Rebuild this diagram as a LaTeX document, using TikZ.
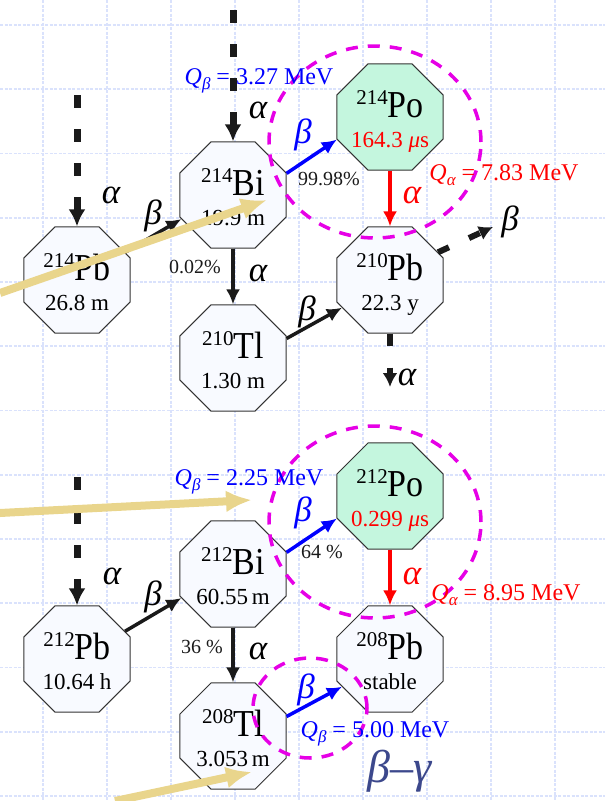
\documentclass[tikz,border=0pt]{standalone}
\usepackage{fontspec}
\setmainfont{Liberation Serif}
\usepackage{tikz}
\usetikzlibrary{shapes.geometric,arrows.meta}

\definecolor{gridblue}{RGB}{218,226,252}
\definecolor{nucfill}{RGB}{248,250,255}
\definecolor{pofill}{RGB}{196,246,222}
\definecolor{hintyellow}{RGB}{233,213,140}
\definecolor{ringmag}{RGB}{230,0,230}
\definecolor{slateblue}{RGB}{60,72,140}
\definecolor{arrblack}{RGB}{26,26,26}

% nuclide text: mass number, symbol, half-life
\newcommand{\nucl}[3]{\smash{\makebox[0pt]{\begin{tabular}[t]{@{}c@{}}\raisebox{13pt}{\fontsize{21}{21}\selectfont #1}\scalebox{1}[1.12]{#2}\\ {\fontsize{23}{23}\selectfont #3}\end{tabular}}}}
% Q value: subscript letter, energy
\newcommand{\qval}[2]{{\itshape Q}\raisebox{-5pt}{\fontsize{17}{17}\selectfont\itshape #1} = #2 MeV}

\begin{document}
\begin{tikzpicture}[x=1pt, y=-1pt,
    gridln/.style={gridblue, line width=1.8pt, dash pattern=on 3pt off 1.5pt},
    nuc/.style={regular polygon, regular polygon sides=8, minimum size=115pt,
        inner sep=0pt, draw=black!80, line width=0.9pt, fill=nucfill,
        font=\fontsize{34}{30}\selectfont},
    ponuc/.style={nuc, fill=pofill},
    decay/.style={arrblack, line width=3.5pt, -{Latex[length=15pt,width=14pt]}},
    bdecay/.style={decay, blue},
    adecay/.style={decay, red},
    feed/.style={arrblack, line width=7pt, dash pattern=on 13pt off 21pt,
        -{Latex[length=17pt,width=17pt]}},
    feedout/.style={arrblack, line width=6pt, dash pattern=on 12pt off 22pt,
        -{Latex[length=14pt,width=15pt]}},
    ring/.style={ringmag, line width=3.5pt, dash pattern=on 12pt off 10pt},
    hint/.style={hintyellow, line width=8pt, -{Latex[length=26pt,width=22pt]}},
    decaylbl/.style={font=\fontsize{35}{35}\selectfont\itshape, inner sep=0pt},
    pctlbl/.style={font=\fontsize{20}{20}\selectfont, text=arrblack, inner sep=0pt},
    qlbl/.style={font=\fontsize{24}{24}\selectfont, inner sep=0pt}]
    \useasboundingbox (0,0) rectangle (605,801);
    % Draw background grid
    \foreach \x in {0,...,8}
        \draw[gridln] ({43+64*\x},0) -- ({43+64*\x},801);
    \foreach \y in {0,...,12}
        \draw[gridln] (0,{25+64.25*\y}) -- (605,{25+64.25*\y});

    % Draw upper chain
    \node[nuc] (pb214) at (77,280) {\nucl{214}{Pb}{26.8 m}};
    \node[nuc] (bi214) at (233,195) {\nucl{214}{Bi}{19.9 m}};
    \node[nuc] (tl210) at (233,358) {\nucl{210}{Tl}{1.30 m}};
    \node[ponuc] (po214) at (390,117) {\nucl{214}{Po}{\textcolor{red}{164.3 {\itshape μ}s}}};
    \node[nuc] (pb210) at (390,280) {\nucl{210}{Pb}{22.3 y}};
    % Draw lower chain
    \node[nuc] (pb212) at (77,659) {\nucl{212}{Pb}{10.64 h}};
    \node[nuc] (bi212) at (233,574) {\nucl{212}{Bi}{60.55\,m}};
    \node[nuc] (tl208) at (233,736) {\nucl{208}{Tl}{3.053\,m}};
    \node[ponuc] (po212) at (390,496) {\nucl{212}{Po}{\textcolor{red}{0.299 {\itshape μ}s}}};
    \node[nuc] (pb208) at (390,659) {\nucl{208}{Pb}{stable}};

    % Draw feeding and outgoing decays
    \coordinate (feedbi) at (233,10);
    \coordinate (feedpb) at (77,95);
    \coordinate (feedpbb) at (77,477);
    \coordinate (outb) at (493,227);
    \coordinate (outa) at (390,387);
    \draw[feed] (feedbi) -- (bi214);
    \draw[feed] (feedpb) -- (pb214);
    \draw[feed] (feedpbb) -- (pb212);
    \draw[feedout] (pb210.30) -- (outb);
    \draw[feedout] (pb210.south) -- (outa);

    % Draw decay arrows
    \draw[decay] (pb214.30) -- (bi214.205);
    \draw[decay] (bi214) -- (tl210);
    \draw[bdecay] (bi214.22) -- (po214.203);
    \draw[decay] (tl210.20) -- (pb210.210);
    \draw[adecay] (po214) -- (pb210);
    \draw[decay] (pb212.30) -- (bi212.205);
    \draw[decay] (bi212) -- (tl208);
    \draw[bdecay] (bi212.22) -- (po212.203);
    \draw[bdecay] (tl208.20) -- (pb208.210);
    \draw[adecay] (po212) -- (pb208);

    % Draw dashed rings
    \draw[ring] (375,142) ellipse [x radius=106pt, y radius=96pt];
    \draw[ring] (375,522) ellipse [x radius=106pt, y radius=96pt];
    \draw[ring] (310,708) ellipse [x radius=57pt, y radius=50pt];

    % Label decays
    \node[decaylbl] (a1) at (111,195) {α};
    \node[decaylbl] (a2) at (258,110) {α};
    \node[decaylbl] (b1) at (153,216) {β};
    \node[decaylbl] (a3) at (258,273) {α};
    \node[decaylbl, blue] (b2) at (303,135) {β};
    \node[decaylbl, red] (a4) at (412,195) {α};
    \node[decaylbl] (b3) at (510,222) {β};
    \node[decaylbl] (a5) at (407,377) {α};
    \node[decaylbl] (b4) at (307,312) {β};
    \node[decaylbl] (a6) at (112,576) {α};
    \node[decaylbl] (b5) at (153,597) {β};
    \node[decaylbl] (a7) at (258,651) {α};
    \node[decaylbl, blue] (b6) at (303,513) {β};
    \node[decaylbl, red] (a8) at (412,576) {α};
    \node[decaylbl, blue] (b7) at (306,690) {β};
    % Label branching ratios
    \node[pctlbl] (r1) at (195,267) {0.02\%};
    \node[pctlbl] (r2) at (329,179) {99.98\%};
    \node[pctlbl] (r3) at (202,647) {36 \%};
    \node[pctlbl] (r4) at (322,552) {64 \%};
    % Label Q values
    \node[qlbl, blue] (q1) at (259,81) {\qval{β}{3.27}};
    \node[qlbl, red] (q2) at (504,175) {\qval{α}{7.83}};
    \node[qlbl, blue] (q3) at (249,482) {\qval{β}{2.25}};
    \node[qlbl, red] (q4) at (506,595) {\qval{α}{8.95}};
    \node[qlbl, blue] (q5) at (375,734) {\qval{β}{5.00}};
    \node[font=\fontsize{46}{46}\selectfont\itshape, slateblue, inner sep=0pt] (bg) at (400,771) {β–γ};

    % Draw hint arrows
    \coordinate (h1s) at (0,293);
    \coordinate (h1e) at (267,200);
    \coordinate (h2s) at (0,513);
    \coordinate (h2e) at (252,500);
    \coordinate (h3s) at (115,801);
    \coordinate (h3e) at (252,772);
    \draw[hint] (h1s) -- (h1e);
    \draw[hint] (h2s) -- (h2e);
    \draw[hint] (h3s) -- (h3e);
\end{tikzpicture}
\end{document}
